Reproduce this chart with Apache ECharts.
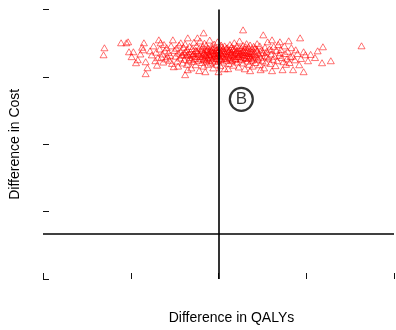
<!DOCTYPE html>
<html>
<head>
<meta charset="utf-8">
<script src="https://cdn.jsdelivr.net/npm/echarts@6/dist/echarts.min.js"></script>
<style>
  html, body { margin: 0; padding: 0; background: #fff; }
  #plane { width: 396px; height: 330px; }
</style>
</head>
<body>
<div id="plane"></div>
<script>
// incremental QALYs / incremental cost, one pair per simulation
const qalyDiff = [
  -0.0130, -0.0131, -0.0111, -0.0105, -0.0103, -0.0085, -0.0086, -0.0097, -0.0102, -0.0094,
  -0.0092, -0.0083, -0.0083, -0.0081, -0.0089, -0.0099, -0.0087,
  -0.0068, -0.0066, -0.0052, -0.0058, -0.0069, -0.0051, -0.0078, -0.0076, -0.0074, -0.0072,
  -0.0071, -0.0070, -0.0067, -0.0065, -0.0064, -0.0063, -0.0062, -0.0061, -0.0060, -0.0059,
  -0.0057, -0.0056, -0.0055, -0.0054, -0.0053, -0.0050,
  -0.0043, -0.0035, -0.0024, -0.0038, -0.0035,
  -0.0049, -0.0048, -0.0047, -0.0046, -0.0046, -0.0045, -0.0044, -0.0043, -0.0042, -0.0041,
  -0.0040, -0.0039, -0.0039, -0.0038, -0.0037, -0.0036, -0.0036, -0.0035, -0.0034, -0.0033,
  -0.0033, -0.0032, -0.0031, -0.0030, -0.0030, -0.0029, -0.0028, -0.0028, -0.0027, -0.0026,
  -0.0026, -0.0025, -0.0024, -0.0024, -0.0023, -0.0022, -0.0022, -0.0021, -0.0021, -0.0020,
  -0.0017, 0.0000, -0.0015,
  -0.0019, -0.0019, -0.0018, -0.0018, -0.0017, -0.0017, -0.0016, -0.0016, -0.0015, -0.0015,
  -0.0014, -0.0014, -0.0013, -0.0013, -0.0012, -0.0012, -0.0011, -0.0011, -0.0010, -0.0010,
  -0.0009, -0.0009, -0.0008, -0.0008, -0.0007, -0.0007, -0.0006, -0.0006, -0.0005, -0.0005,
  -0.0004, -0.0004, -0.0003, -0.0003, -0.0002, -0.0002, -0.0001, -0.0001, 0.0000, 0.0000,
  0.0001, 0.0001, 0.0002, 0.0002, 0.0003, 0.0003, 0.0004, 0.0004, 0.0005, 0.0005,
  0.0006, 0.0007, 0.0007, 0.0008, 0.0009, 0.0009,
  0.0011, 0.0028, 0.0036,
  0.0010, 0.0011, 0.0012, 0.0012, 0.0013, 0.0013, 0.0014, 0.0015, 0.0015, 0.0016,
  0.0016, 0.0017, 0.0018, 0.0018, 0.0019, 0.0019, 0.0020, 0.0021, 0.0021, 0.0022,
  0.0023, 0.0023, 0.0024, 0.0024, 0.0025, 0.0026, 0.0026, 0.0027, 0.0028, 0.0028,
  0.0029, 0.0030, 0.0030, 0.0031, 0.0032, 0.0032, 0.0033, 0.0034, 0.0034, 0.0035,
  0.0035, 0.0036, 0.0037, 0.0037, 0.0038, 0.0038, 0.0039, 0.0039, 0.0040, 0.0040,
  0.0051, 0.0061, 0.0070, 0.0048, 0.0061, 0.0070,
  0.0041, 0.0042, 0.0042, 0.0043, 0.0044, 0.0044, 0.0045, 0.0046, 0.0047, 0.0047,
  0.0048, 0.0049, 0.0050, 0.0051, 0.0052, 0.0053, 0.0053, 0.0054, 0.0055, 0.0056,
  0.0057, 0.0058, 0.0059, 0.0060, 0.0062, 0.0063, 0.0064, 0.0065, 0.0066, 0.0067,
  0.0068, 0.0069,
  0.0093, 0.0080, 0.0097, 0.0099, 0.0088, 0.0082, 0.0074, 0.0097, 0.0085, 0.0073,
  0.0071, 0.0072, 0.0075, 0.0076, 0.0077, 0.0078, 0.0079, 0.0081, 0.0083, 0.0084,
  0.0087, 0.0090, 0.0092, 0.0094,
  0.0119, 0.0163, 0.0102, 0.0118, 0.0128, 0.0105, 0.0110, 0.0113,
  -0.0029, -0.0027, -0.0025, -0.0023, -0.0020, -0.0019, -0.0017, -0.0016, -0.0014, -0.0013,
  -0.0012, -0.0011, -0.0010, -0.0009, -0.0008, -0.0007, -0.0006, -0.0005, -0.0004, -0.0003,
  -0.0002, -0.0001, 0.0000, 0.0001, 0.0002, 0.0003, 0.0004, 0.0005, 0.0006, 0.0007,
  0.0008, 0.0009, 0.0010, 0.0011, 0.0012, 0.0013, 0.0014, 0.0015, 0.0016, 0.0017,
  0.0018, 0.0019, 0.0020, 0.0021, 0.0022, 0.0023, 0.0024, 0.0025, 0.0026, 0.0027,
  0.0028, 0.0029, 0.0030, 0.0031, 0.0032, 0.0033, 0.0034, 0.0035, 0.0036, 0.0038,
  -0.0033, -0.0031, -0.0037, -0.0041, 0.0041, 0.0043, 0.0045, 0.0049, 0.0055, 0.0060
];
const costDiff = [
  4148, 3992, 4259, 4259, 4281, 4259, 4103, 4059, 4059, 3815,
  3882, 3837, 3571, 3704, 4010, 3950, 4160,
  4325, 4259, 4325, 3948, 3926, 3726, 4080, 3990, 4190, 3860,
  4050, 3760, 4120, 3940, 4010, 3830, 4220, 4080, 3900, 4150,
  4040, 3870, 3980, 4190, 3800, 4090,
  4259, 4369, 4369, 3549, 3660,
  3960, 4140, 3850, 4030, 3740, 4210, 3920, 4070, 3990, 3810,
  4160, 3890, 4040, 4230, 3970, 3780, 4110, 4000, 3860, 4180,
  3930, 4060, 3700, 4130, 3980, 3840, 4270, 4020, 3910, 4090,
  3770, 4190, 3950, 4050, 3870, 4140, 3640, 4000, 4300, 3900,
  4480, 3615, 3615,
  4080, 3820, 4170, 3960, 4030, 3740, 4250, 3890, 4110, 3990,
  3850, 4200, 4060, 3930, 3780, 4140, 4010, 3870, 4320, 3960,
  4090, 3810, 4180, 4000, 3900, 4120, 3700, 4050, 3970, 4230,
  3840, 4150, 4020, 3920, 4100, 3780, 4280, 3990, 4070, 3860,
  4160, 3950, 4040, 3750, 4210, 3900, 4090, 3980, 3830, 4130,
  4010, 3680, 4190, 3940, 4060, 3870,
  3682, 4547, 3638,
  4150, 3990, 4080, 3800, 4220, 3930, 4030, 3860, 4170, 3970,
  4100, 3760, 4000, 4260, 3900, 4120, 4050, 3830, 4190, 3950,
  4080, 3720, 4010, 4300, 3880, 4140, 3960, 4060, 3810, 4200,
  3990, 4110, 3680, 3920, 4040, 4240, 3850, 4160, 3970, 4070,
  3780, 4210, 3930, 4020, 3870, 4130, 3990, 3740, 4180, 3900,
  4436, 4325, 4281, 3660, 3638, 4037,
  4050, 3820, 4150, 3960, 4240, 4080, 3890, 4010, 3770, 4190,
  3940, 4100, 3860, 4040, 3700, 4160, 3980, 3830, 4070, 4280,
  3920, 4120, 3800, 4010, 3890, 4180, 3960, 3750, 4090, 3860,
  4220, 3980,
  4369, 4303, 4059, 3992, 4103, 3948, 3837, 3615, 3660, 3660,
  4110, 3930, 4190, 4020, 3780, 3900, 4070, 3820, 4150, 3960,
  3880, 4020, 3770, 3910,
  4170, 4192, 3859, 3815, 3859, 4000, 3930, 4080,
  4010, 3950, 4080, 4020, 3960, 4120, 3900, 4040, 3980, 4100,
  3920, 4060, 4000, 3940, 4080, 3870, 4150, 4020, 3960, 4090,
  3910, 4040, 3980, 4110, 3890, 4030, 4170, 3950, 4080, 3910,
  4020, 4140, 3960, 4060, 3900, 4110, 3990, 4050, 3880, 4130,
  3950, 4030, 3910, 4090, 4010, 3960, 4150, 4040, 3900, 4000,
  4090, 3930, 4050, 4170, 3970, 4080, 3910, 4020, 3950, 4060,
  4010, 3890, 4060, 3990, 3990, 4120, 3920, 4030, 3950, 4100
];
// quadrant tag
const tagPoint = [0.0026, 3000];
const tagText = "B";

let chart = echarts.init(document.getElementById("plane"));
const font = "'Liberation Sans', Arial, sans-serif";

let option = {
  animation: false,
  grid: { left: 42, right: 2, top: 9.5, bottom: 49.5 },
  xAxis: {
    type: "value",
    min: -0.02,
    max: 0.02,
    interval: 0.01,
    name: "Difference in QALYs",
    nameLocation: "middle",
    nameGap: 32,
    nameTextStyle: { fontFamily: font, fontSize: 14, color: "#000", padding: [0, 0, 0, 26] },
    axisLine: { show: false, onZero: false },
    axisTick: { show: true, inside: true, length: 6, lineStyle: { color: "#111", width: 1 } },
    axisLabel: { show: false },
    splitLine: { show: false }
  },
  yAxis: {
    type: "value",
    min: -1000,
    max: 5000,
    interval: 1500,
    name: "Difference in Cost",
    nameLocation: "middle",
    nameGap: 21,
    nameTextStyle: { fontFamily: font, fontSize: 14, color: "#000" },
    axisLine: { show: false, onZero: false },
    axisTick: { show: true, inside: true, length: 6, lineStyle: { color: "#111", width: 1 } },
    axisLabel: { show: false },
    splitLine: { show: false }
  },
  series: [
    {
      type: "scatter",
      symbol: "triangle",
      symbolSize: [7, 6],
      itemStyle: { color: "rgba(0,0,0,0)", borderColor: "#ff0000", borderWidth: 0.7 },
      data: qalyDiff.map((q, i) => [q, costDiff[i]]),
      markLine: {
        silent: true,
        symbol: "none",
        label: { show: false },
        lineStyle: { color: "#000", width: 1.6, type: "solid" },
        data: [{ xAxis: 0 }, { yAxis: 0 }]
      },
      z: 2
    },
    {
      type: "scatter",
      symbol: "circle",
      symbolSize: 23,
      itemStyle: { color: "#fff", borderColor: "#000", borderWidth: 2.2 },
      label: {
        show: true,
        position: "inside",
        formatter: tagText,
        fontFamily: font,
        fontSize: 17,
        color: "#000"
      },
      data: [tagPoint],
      z: 3
    }
  ]
};
chart.setOption(option);
</script>
</body>
</html>
